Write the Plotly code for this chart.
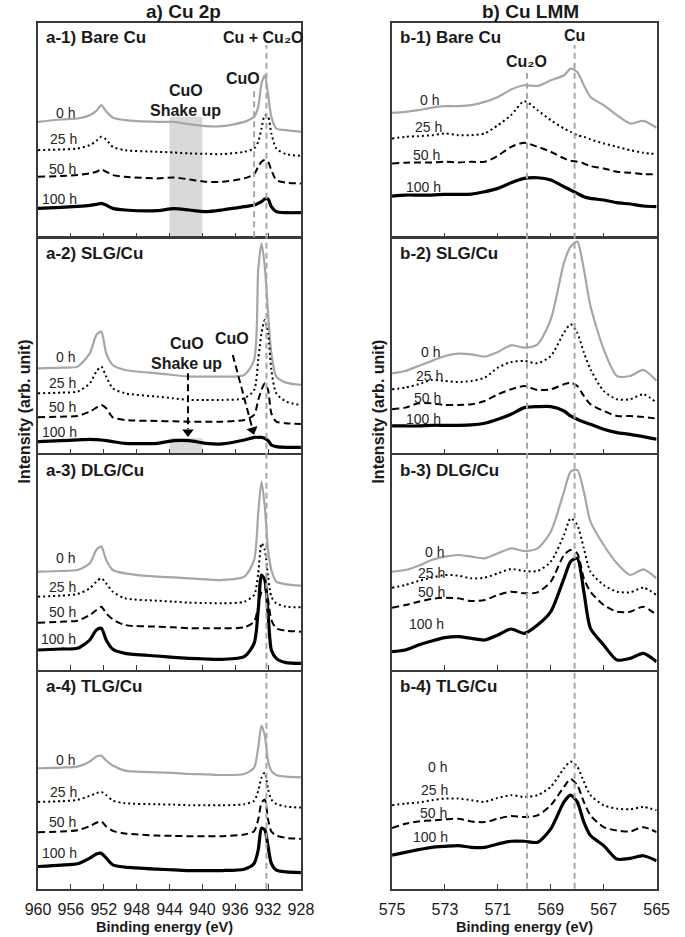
import plotly.graph_objects as go

# ---------------- data ----------------
# Binding-energy grids (eV)
X_2P = [960, 957.2, 955.2, 953.7, 952.9, 952.3, 951.7, 950.9, 949.4, 945.5, 943.5, 941.6,
        939.6, 937.6, 934.9, 933.7, 933.2, 932.8, 932.4, 932.0, 931.6, 931.0, 929.8, 928]
X_LMM = [575, 574.5, 574, 573.5, 573, 572.5, 572, 571.5, 571, 570.5, 570, 569.5, 569,
         568.5, 568.25, 568, 567.75, 567.5, 567, 566.5, 566, 565.5, 565]

HOURS = ["0 h", "25 h", "50 h", "100 h"]
PANEL_NAMES = ["a-1) Bare Cu", "a-2) SLG/Cu", "a-3) DLG/Cu", "a-4) TLG/Cu",
               "b-1) Bare Cu", "b-2) SLG/Cu", "b-3) DLG/Cu", "b-4) TLG/Cu"]

# Cu 2p intensities (arb. unit)
A1_0H = [347, 354, 357, 367, 380, 397, 378, 360, 352, 347, 347, 340, 334, 334, 347, 362, 392, 462, 487, 430, 362, 327, 322, 317]
A1_25H = [262, 264, 267, 277, 290, 302, 294, 272, 262, 257, 255, 252, 251, 250, 257, 267, 287, 327, 367, 362, 312, 267, 250, 245]
A1_50H = [182, 184, 187, 192, 197, 204, 197, 187, 182, 177, 180, 174, 167, 167, 177, 190, 212, 227, 232, 227, 202, 172, 164, 162]
A1_100H = [87, 90, 93, 96, 99, 102, 97, 87, 82, 80, 86, 82, 77, 82, 92, 97, 102, 107, 115, 115, 92, 77, 74, 74]

A2_0H = [255, 257, 260, 300, 355, 365, 300, 265, 250, 240, 235, 230, 230, 230, 235, 280, 550, 630, 560, 420, 300, 230, 212, 205]
A2_25H = [180, 182, 185, 210, 245, 260, 230, 195, 180, 170, 165, 160, 160, 160, 165, 190, 280, 360, 400, 360, 250, 180, 155, 145]
A2_50H = [108, 110, 112, 125, 137, 145, 135, 108, 100, 97, 96, 95, 95, 95, 100, 115, 160, 190, 210, 190, 120, 95, 90, 88]
A2_100H = [35, 38, 40, 42, 41, 40, 38, 35, 30, 30, 38, 38, 30, 28, 40, 48, 48, 48, 45, 38, 25, 20, 18, 18]

A3_0H = [295, 297, 300, 320, 360, 370, 330, 300, 290, 280, 278, 275, 272, 270, 280, 330, 470, 565, 490, 360, 300, 265, 257, 253]
A3_25H = [220, 223, 228, 245, 265, 275, 260, 235, 215, 208, 205, 202, 201, 200, 205, 225, 290, 380, 360, 280, 220, 200, 190, 188]
A3_50H = [142, 145, 148, 165, 180, 190, 170, 152, 135, 130, 128, 125, 125, 125, 128, 145, 190, 235, 245, 210, 150, 125, 118, 115]
A3_100H = [60, 63, 65, 90, 120, 125, 90, 62, 50, 42, 38, 35, 33, 32, 40, 80, 180, 285, 270, 170, 60, 35, 22, 20]

A4_0H = [358, 360, 363, 378, 393, 395, 381, 366, 351, 346, 344, 341, 340, 338, 341, 360, 420, 485, 455, 380, 350, 338, 333, 331]
A4_25H = [258, 260, 264, 276, 284, 288, 278, 262, 254, 251, 250, 248, 248, 248, 251, 261, 291, 330, 345, 296, 265, 252, 244, 241]
A4_50H = [168, 170, 174, 186, 196, 200, 185, 172, 164, 158, 157, 156, 156, 156, 161, 171, 206, 255, 265, 206, 170, 158, 151, 148]
A4_100H = [66, 70, 74, 91, 103, 105, 91, 71, 64, 58, 56, 54, 54, 54, 58, 75, 115, 180, 175, 125, 75, 55, 50, 48]

# Cu LMM intensities (arb. unit)
B1_0H = [374, 377, 382, 390, 394, 394, 397, 407, 422, 444, 457, 455, 472, 487, 507, 497, 457, 422, 397, 367, 342, 350, 329]
B1_25H = [297, 302, 304, 307, 312, 307, 307, 312, 337, 367, 409, 382, 352, 327, 317, 307, 302, 294, 282, 272, 262, 254, 250]
B1_50H = [222, 224, 225, 225, 227, 225, 227, 227, 245, 272, 284, 272, 257, 237, 230, 227, 222, 214, 207, 197, 194, 190, 190]
B1_100H = [124, 127, 127, 127, 129, 129, 130, 137, 147, 164, 177, 179, 172, 152, 142, 132, 122, 117, 112, 104, 100, 94, 92]

B2_0H = [240, 247, 262, 277, 292, 299, 297, 290, 304, 324, 317, 327, 402, 572, 620, 635, 552, 442, 312, 232, 232, 250, 217]
B2_25H = [192, 197, 207, 220, 217, 214, 217, 227, 257, 274, 277, 270, 292, 362, 387, 362, 302, 252, 187, 162, 162, 177, 152]
B2_50H = [132, 137, 150, 150, 145, 145, 147, 157, 177, 192, 202, 190, 192, 207, 212, 202, 172, 147, 127, 112, 112, 109, 104]
B2_100H = [82, 82, 82, 84, 84, 84, 85, 90, 102, 117, 137, 140, 140, 127, 112, 102, 94, 87, 72, 62, 57, 50, 42]

B3_0H = [295, 300, 313, 330, 340, 345, 340, 335, 350, 365, 357, 365, 415, 535, 595, 600, 535, 445, 375, 320, 285, 302, 275]
B3_25H = [247, 255, 267, 277, 285, 283, 275, 277, 290, 303, 297, 297, 325, 405, 455, 435, 365, 295, 255, 235, 233, 247, 225]
B3_50H = [187, 195, 205, 213, 217, 215, 207, 210, 225, 235, 230, 233, 265, 345, 360, 350, 275, 235, 195, 175, 175, 190, 165]
B3_100H = [55, 60, 75, 87, 97, 100, 95, 90, 105, 123, 110, 135, 175, 275, 325, 335, 235, 125, 75, 30, 35, 50, 25]

B4_0H = None  # no 0 h trace drawn in b-4
B4_25H = [248, 253, 256, 263, 268, 268, 263, 258, 270, 278, 273, 278, 303, 358, 378, 363, 318, 278, 248, 238, 236, 243, 233]
B4_50H = [180, 193, 200, 203, 206, 208, 200, 198, 208, 216, 213, 218, 248, 303, 326, 308, 258, 218, 183, 173, 170, 183, 168]
B4_100H = [100, 108, 116, 123, 126, 128, 123, 123, 133, 141, 141, 138, 178, 258, 278, 258, 198, 158, 128, 88, 90, 98, 83]

TICKS_2P = [960, 956, 952, 948, 944, 940, 936, 932, 928]
TICKS_LMM = [575, 573, 571, 569, 567, 565]

PANEL_SERIES = [
    [A1_0H, A1_25H, A1_50H, A1_100H],
    [A2_0H, A2_25H, A2_50H, A2_100H],
    [A3_0H, A3_25H, A3_50H, A3_100H],
    [A4_0H, A4_25H, A4_50H, A4_100H],
    [B1_0H, B1_25H, B1_50H, B1_100H],
    [B2_0H, B2_25H, B2_50H, B2_100H],
    [B3_0H, B3_25H, B3_50H, B3_100H],
    [B4_0H, B4_25H, B4_50H, B4_100H],
]

# ---------------- layout geometry (pixels) ----------------
W, H = 685, 937
COL_X = [(26, 299.3), (394, 669)]
ROWS = [(22.7, 237.3), (238.3, 453.3), (455, 670), (671.7, 888.7)]
YMAX = 645
FONT = "Liberation Sans, Arial, DejaVu Sans, sans-serif"
DARK = "#262626"
BORDER = "#3a3a3a"
GRAY = "#a6a6a6"


def py(p):
    return 1 - p / H


STYLES = [
    dict(color=GRAY, width=2.2, dash="solid"),
    dict(color="black", width=2, dash="2px,3px"),
    dict(color="black", width=2, dash="7px,4px"),
    dict(color="black", width=3.2, dash="solid"),
]

# label positions (eV, intensity) for hour labels
LABEL_POS = [
    [(956.6, 374), (956.9, 294), (957.0, 204), (957.4, 114)],
    [(956.6, 290), (957.0, 210), (957.0, 138), (957.4, 65)],
    [(956.7, 335), (957.0, 250), (957.0, 175), (957.5, 92)],
    [(956.6, 383), (956.9, 286), (957.0, 198), (957.4, 106)],
    [(573.57, 412), (573.63, 332), (573.7, 247), (573.8, 150)],
    [(573.55, 304), (573.6, 232), (573.67, 167), (573.8, 104)],
    [(573.4, 355), (573.5, 290), (573.5, 235), (573.7, 137)],
    [(573.3, 363), (573.4, 293), (573.45, 226), (573.55, 153)],
]

fig = go.Figure()
annotations = []
shapes = []
layout = {}

for k in range(8):
    col, row = divmod(k, 4)
    s = "" if k == 0 else str(k + 1)
    xs = X_2P if col == 0 else X_LMM
    for j, ys in enumerate(PANEL_SERIES[k]):
        if ys is None:
            continue
        st = STYLES[j]
        fig.add_trace(go.Scatter(
            x=xs, y=ys, mode="lines", xaxis="x" + s, yaxis="y" + s,
            line=dict(color=st["color"], width=st["width"], dash=st["dash"],
                      shape="spline", smoothing=0.7),
            showlegend=False, hoverinfo="skip"))
    x0, x1 = COL_X[col]
    top, bot = ROWS[row]
    layout["xaxis" + s] = dict(
        domain=[x0 / W, x1 / W],
        range=[960, 928] if col == 0 else [575, 565],
        anchor="y" + s, showline=True, linecolor=BORDER, linewidth=1.5, mirror=True,
        ticks="inside", ticklen=5, tickwidth=1.3, tickcolor=BORDER,
        tickvals=TICKS_2P if col == 0 else TICKS_LMM,
        showticklabels=(row == 3), tickfont=dict(family=FONT, size=16, color="#1a1a1a"),
        ticklabelstandoff=5,
        showgrid=False, zeroline=False, fixedrange=True)
    layout["yaxis" + s] = dict(
        domain=[py(bot), py(top)], range=[0, YMAX], anchor="x" + s,
        showline=True, linecolor=BORDER, linewidth=1.5, mirror=True,
        ticks="", showticklabels=False, showgrid=False, zeroline=False, fixedrange=True)
    # panel label
    annotations.append(dict(
        xref="paper", yref="paper", x=(x0 + 6) / W, y=py(top + 15),
        xanchor="left", yanchor="middle", showarrow=False,
        text="<b>" + PANEL_NAMES[k] + "</b>", font=dict(family=FONT, size=17, color="#1a1a1a")))
    # hour labels
    for j, lab in enumerate(HOURS):
        lx, ly = LABEL_POS[k][j]
        annotations.append(dict(
            xref="x" + s, yref="y" + s, x=lx, y=ly, xanchor="center", yanchor="middle",
            showarrow=False, text=lab, font=dict(family=FONT, size=14, color=DARK)))


def paper_text(xp, yp, text, size, angle=0):
    return dict(xref="paper", yref="paper", x=xp / W, y=py(yp), xanchor="center",
                yanchor="middle", showarrow=False, textangle=angle, text=text,
                font=dict(family=FONT, size=size, color="#1a1a1a"))


# column titles and axis titles
annotations += [
    paper_text(177, 12, "<b>a) Cu 2p</b>", 19),
    paper_text(538, 12, "<b>b) Cu LMM</b>", 19),
    paper_text(157, 927, "<b>Binding energy (eV)</b>", 14.5),
    paper_text(532, 927, "<b>Binding energy (eV)</b>", 14.5),
    paper_text(12, 412, "<b>Intensity (arb. unit)</b>", 16, -90),
    paper_text(380, 412, "<b>Intensity (arb. unit)</b>", 16, -90),
]

BOLD16 = dict(family=FONT, size=16, color="#1a1a1a")


def data_text(xr, yr, x, y, text):
    return dict(xref=xr, yref=yr, x=x, y=y, xanchor="center", yanchor="middle",
                showarrow=False, text=text, font=BOLD16)


# peak annotations
annotations += [
    data_text("x", "y", 932.6, 602, "<b>Cu + Cu₂O</b>"),
    data_text("x", "y", 935.1, 477, "<b>CuO</b>"),
    data_text("x", "y", 942.0, 442, "<b>CuO</b>"),
    data_text("x", "y", 942.0, 382, "<b>Shake up</b>"),
    data_text("x2", "y2", 941.9, 328, "<b>CuO</b>"),
    data_text("x2", "y2", 941.9, 268, "<b>Shake up</b>"),
    data_text("x2", "y2", 936.4, 345, "<b>CuO</b>"),
    data_text("x5", "y5", 569.9, 527, "<b>Cu₂O</b>"),
    data_text("x5", "y5", 568.1, 607, "<b>Cu</b>"),
]

# arrow heads of the dashed arrows in a-2 (triangle markers)
fig.add_trace(go.Scatter(
    x=[941.75], y=[64], xaxis="x2", yaxis="y2", mode="markers",
    marker=dict(symbol="triangle-down", size=10, color="black"),
    showlegend=False, hoverinfo="skip"))
fig.add_trace(go.Scatter(
    x=[933.88], y=[70], xaxis="x2", yaxis="y2", mode="markers",
    marker=dict(symbol="triangle-down", size=10, color="black", angle=-16),
    showlegend=False, hoverinfo="skip"))

# shaded shake-up regions
shapes += [
    dict(type="rect", xref="x", yref="y", x0=944, x1=940, y0=0, y1=362,
         fillcolor="#d9d9d9", line=dict(width=0), layer="below"),
    dict(type="rect", xref="x2", yref="y2", x0=944, x1=940, y0=0, y1=45,
         fillcolor="#d9d9d9", line=dict(width=0), layer="below"),
]
VDASH = dict(color=GRAY, width=2, dash="6px,4px")
shapes += [
    dict(type="line", xref="x", yref="paper", x0=932.2, x1=932.2, y0=py(888.7), y1=py(45), line=VDASH),
    dict(type="line", xref="x", yref="paper", x0=933.7, x1=933.7, y0=py(237.3), y1=py(87), line=VDASH),
    dict(type="line", xref="x5", yref="paper", x0=569.9, x1=569.9, y0=py(888.7), y1=py(73), line=VDASH),
    dict(type="line", xref="x5", yref="paper", x0=568.1, x1=568.1, y0=py(888.7), y1=py(45), line=VDASH),
    # dashed arrow shafts in a-2
    dict(type="line", xref="x2", yref="y2", x0=941.75, x1=941.75, y0=240, y1=72,
         line=dict(color="black", width=2, dash="7px,4px")),
    dict(type="line", xref="x2", yref="y2", x0=936.3, x1=933.95, y0=295, y1=78,
         line=dict(color="black", width=2, dash="7px,4px")),
]

fig.update_layout(
    width=W, height=H, margin=dict(l=0, r=0, t=0, b=0),
    paper_bgcolor="white", plot_bgcolor="white",
    font=dict(family=FONT, color="#1a1a1a"),
    annotations=annotations, shapes=shapes, **layout)

fig.write_html("out.html", config={"displayModeBar": False},
               post_script="document.body.style.margin='0';")
